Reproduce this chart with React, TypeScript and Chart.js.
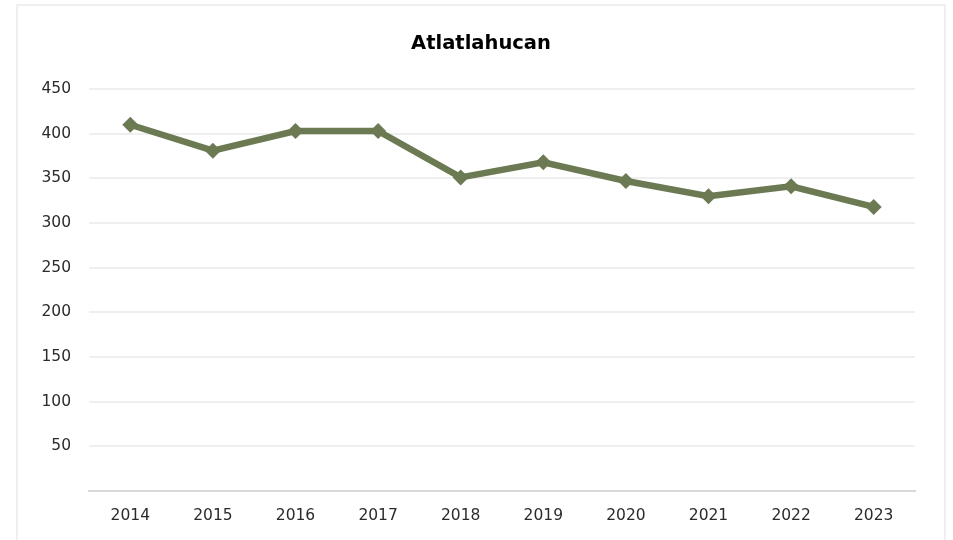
import React, { useEffect, useRef } from "react";
import { Chart, registerables } from "chart.js";

Chart.register(...registerables);

const TITLE = "Atlatlahucan";
const YEARS = ["2014", "2015", "2016", "2017", "2018", "2019", "2020", "2021", "2022", "2023"];
const VALUES = [410, 381, 403, 403, 351, 368, 347, 330, 341, 318];
const Y_MIN = 0;
const Y_MAX = 450;
const Y_STEP = 50;

const LINE_COLOR = "#6b7a52";
const FONT = "'DejaVu Sans', sans-serif";

export default function App() {
  const ref = useRef<HTMLCanvasElement | null>(null);

  useEffect(() => {
    if (!ref.current) return;
    const chart = new Chart(ref.current, {
      type: "line",
      data: {
        labels: YEARS,
        datasets: [
          {
            data: VALUES,
            borderColor: LINE_COLOR,
            backgroundColor: LINE_COLOR,
            borderWidth: 6.5,
            pointStyle: "rectRot",
            pointRadius: 8,
            pointBorderWidth: 0,
            pointBackgroundColor: LINE_COLOR,
            tension: 0,
            fill: false,
          },
        ],
      },
      options: {
        responsive: false,
        animation: false,
        layout: { padding: 0 },
        plugins: {
          legend: { display: false },
          tooltip: { enabled: false },
          title: {
            display: true,
            text: TITLE,
            color: "#000",
            font: { family: FONT, size: 19.5, weight: "bold" },
            padding: { top: 26, bottom: 33.6 },
          },
        },
        scales: {
          x: {
            offset: true,
            grid: { display: false, drawTicks: false },
            border: { display: true, color: "#d9d9d9", width: 2 },
            ticks: { color: "#2b2b2b", font: { family: FONT, size: 15.5 }, padding: 16, maxRotation: 0 },
            afterFit: (s: any) => {
              s.height = 75;
            },
          },
          y: {
            min: Y_MIN,
            max: Y_MAX,
            grid: { color: "#efefef", lineWidth: 2, drawTicks: false },
            border: { display: false },
            ticks: {
              stepSize: Y_STEP,
              color: "#2b2b2b",
              font: { family: FONT, size: 15.5 },
              padding: 18,
              callback: (v: any) => (Number(v) === 0 ? "" : String(v)),
            },
            afterFit: (s: any) => {
              s.width = 71;
            },
          },
          yRight: {
            position: "right",
            min: Y_MIN,
            max: Y_MAX,
            grid: { display: false, drawTicks: false },
            border: { display: false },
            ticks: { display: false },
            afterFit: (s: any) => {
              s.width = 29;
            },
          },
        },
      },
    });
    return () => chart.destroy();
  }, []);

  return (
    <div
      style={{
        position: "absolute",
        left: 16,
        top: 4,
        width: 926,
        height: 560,
        border: "2px solid #efefef",
        background: "#fff",
      }}
    >
      <canvas ref={ref} width={926} height={560} style={{ display: "block" }} />
    </div>
  );
}
